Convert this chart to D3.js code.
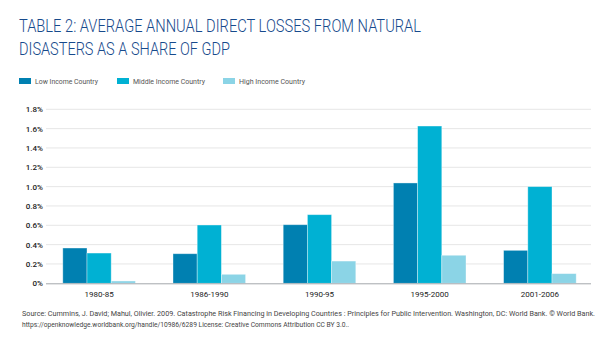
<!DOCTYPE html>
<html>
<head>
<meta charset="utf-8">
<script src="https://cdn.jsdelivr.net/npm/d3@7"></script>
<style>
  body { margin: 0; background: #fff; }
  svg { display: block; font-family: Roboto, "Noto Sans", sans-serif; }
</style>
</head>
<body>
<svg id="chart" width="615" height="344"></svg>
<script>
// periods along the x axis
var periods = ["1980-85", "1986-1990", "1990-95", "1995-2000", "2001-2006"];
// series: share of GDP, in percent
var series_names = ["Low Income Country", "Middle Income Country", "High Income Country"];
var low_income = [0.365, 0.306, 0.606, 1.038, 0.341];
var middle_income = [0.313, 0.603, 0.71, 1.627, 1.0];
var high_income = [0.024, 0.093, 0.23, 0.29, 0.10];
var y_ticks = [0, 0.2, 0.4, 0.6, 0.8, 1.0, 1.2, 1.4, 1.6, 1.8];

var colors = ["#0080b1", "#00b1d3", "#8bd4e6"];
var values = [low_income, middle_income, high_income];

var svg = d3.select("#chart");

// title (the original face is condensed, so squeeze to its width)
var title_lines = ["TABLE 2: AVERAGE ANNUAL DIRECT LOSSES FROM NATURAL", "DISASTERS AS A SHARE OF GDP"];
var title_widths = [402, 211];
svg.selectAll("text.title")
  .data(title_lines)
  .enter()
    .append("text")
      .attr("class", "title")
      .attr("x", 19)
      .attr("y", function(d, i) { return 32 + i * 23; })
      .attr("fill", "#174a8c")
      .attr("font-size", 18)
      .attr("font-weight", 300)
      .attr("textLength", function(d, i) { return title_widths[i]; })
      .attr("lengthAdjust", "spacingAndGlyphs")
      .text(function(d) { return d; });

// legend
var legend_x = [19, 117, 223];
var legend_widths = [63, 72, 66];
var legend = svg.selectAll("g.legend")
  .data(series_names)
  .enter()
    .append("g")
      .attr("class", "legend")
      .attr("transform", function(d, i) { return "translate(" + legend_x[i] + ",78)"; });
legend.append("rect")
  .attr("width", 12).attr("height", 6)
  .attr("fill", function(d, i) { return colors[i]; });
legend.append("text")
  .attr("x", 16).attr("y", 6)
  .attr("font-size", 7.8)
  .attr("fill", "#555")
  .attr("textLength", function(d, i) { return legend_widths[i]; })
  .attr("lengthAdjust", "spacingAndGlyphs")
  .text(function(d) { return d; });

// scales
var x = d3.scaleBand().domain(periods).range([44, 595]).paddingInner(0).paddingOuter(0);
var x_inner = d3.scaleBand().domain(d3.range(3)).range([0, 72.6]);
var group_offset = (x.bandwidth() - 72.6) / 2;
var y = d3.scaleLinear().domain([0, 1.8]).range([283.3, 109.3]);

// grid
svg.append("g")
  .selectAll("line")
  .data(y_ticks.slice(1))
  .enter()
    .append("line")
      .attr("x1", 46).attr("x2", 591)
      .attr("y1", function(d) { return y(d); })
      .attr("y2", function(d) { return y(d); })
      .attr("stroke", "#e6e6e6")
      .attr("stroke-width", 1);

// y axis labels
var y_axis = svg.append("g")
  .attr("transform", "translate(43,0)")
  .call(d3.axisLeft(y).tickValues(y_ticks).tickSize(0).tickPadding(0)
    .tickFormat(function(d) { return d === 0 ? "0%" : d3.format(".1f")(d) + "%"; }));
y_axis.select(".domain").remove();
y_axis.selectAll("text")
  .attr("font-family", "Roboto, sans-serif")
  .attr("font-size", 8)
  .attr("font-weight", 500)
  .attr("fill", "#222");

// bars
var groups = svg.selectAll("g.period")
  .data(periods)
  .enter()
    .append("g")
      .attr("class", "period")
      .attr("transform", function(d) { return "translate(" + (x(d) + group_offset) + ",0)"; });
groups.selectAll("rect")
  .data(function(d, gi) { return values.map(function(s, si) { return { s: si, v: s[gi] }; }); })
  .enter()
    .append("rect")
      .attr("x", function(d) { return x_inner(d.s); })
      .attr("width", x_inner.bandwidth())
      .attr("y", function(d) { return y(d.v); })
      .attr("height", function(d) { return y(0) - y(d.v); })
      .attr("fill", function(d) { return colors[d.s]; })
      .attr("stroke", "rgba(255,255,255,0.45)")
      .attr("stroke-width", 0.8);

// x axis
var x_axis = svg.append("g")
  .attr("transform", "translate(0," + y(0) + ")")
  .call(d3.axisBottom(x).tickSize(0).tickPadding(8));
x_axis.select(".domain")
  .attr("d", "M46,0.5H591")
  .attr("stroke", "#a3a7ab");
x_axis.selectAll("text")
  .attr("font-family", "Roboto, sans-serif")
  .attr("font-size", 8)
  .attr("fill", "#222");

// source
var source_lines = [
  "Source: Cummins, J. David; Mahul, Olivier. 2009. Catastrophe Risk Financing in Developing Countries : Principles for Public Intervention. Washington, DC: World Bank. \u00a9 World Bank.",
  "https://openknowledge.worldbank.org/handle/10986/6289 License: Creative Commons Attribution CC BY 3.0.."
];
var source_widths = [573, 327];
svg.selectAll("text.source")
  .data(source_lines)
  .enter()
    .append("text")
      .attr("class", "source")
      .attr("x", 22)
      .attr("y", function(d, i) { return 316 + i * 11; })
      .attr("font-size", 7)
      .attr("fill", "#444")
      .attr("textLength", function(d, i) { return source_widths[i]; })
      .attr("lengthAdjust", "spacingAndGlyphs")
      .text(function(d) { return d; });
</script>
</body>
</html>
